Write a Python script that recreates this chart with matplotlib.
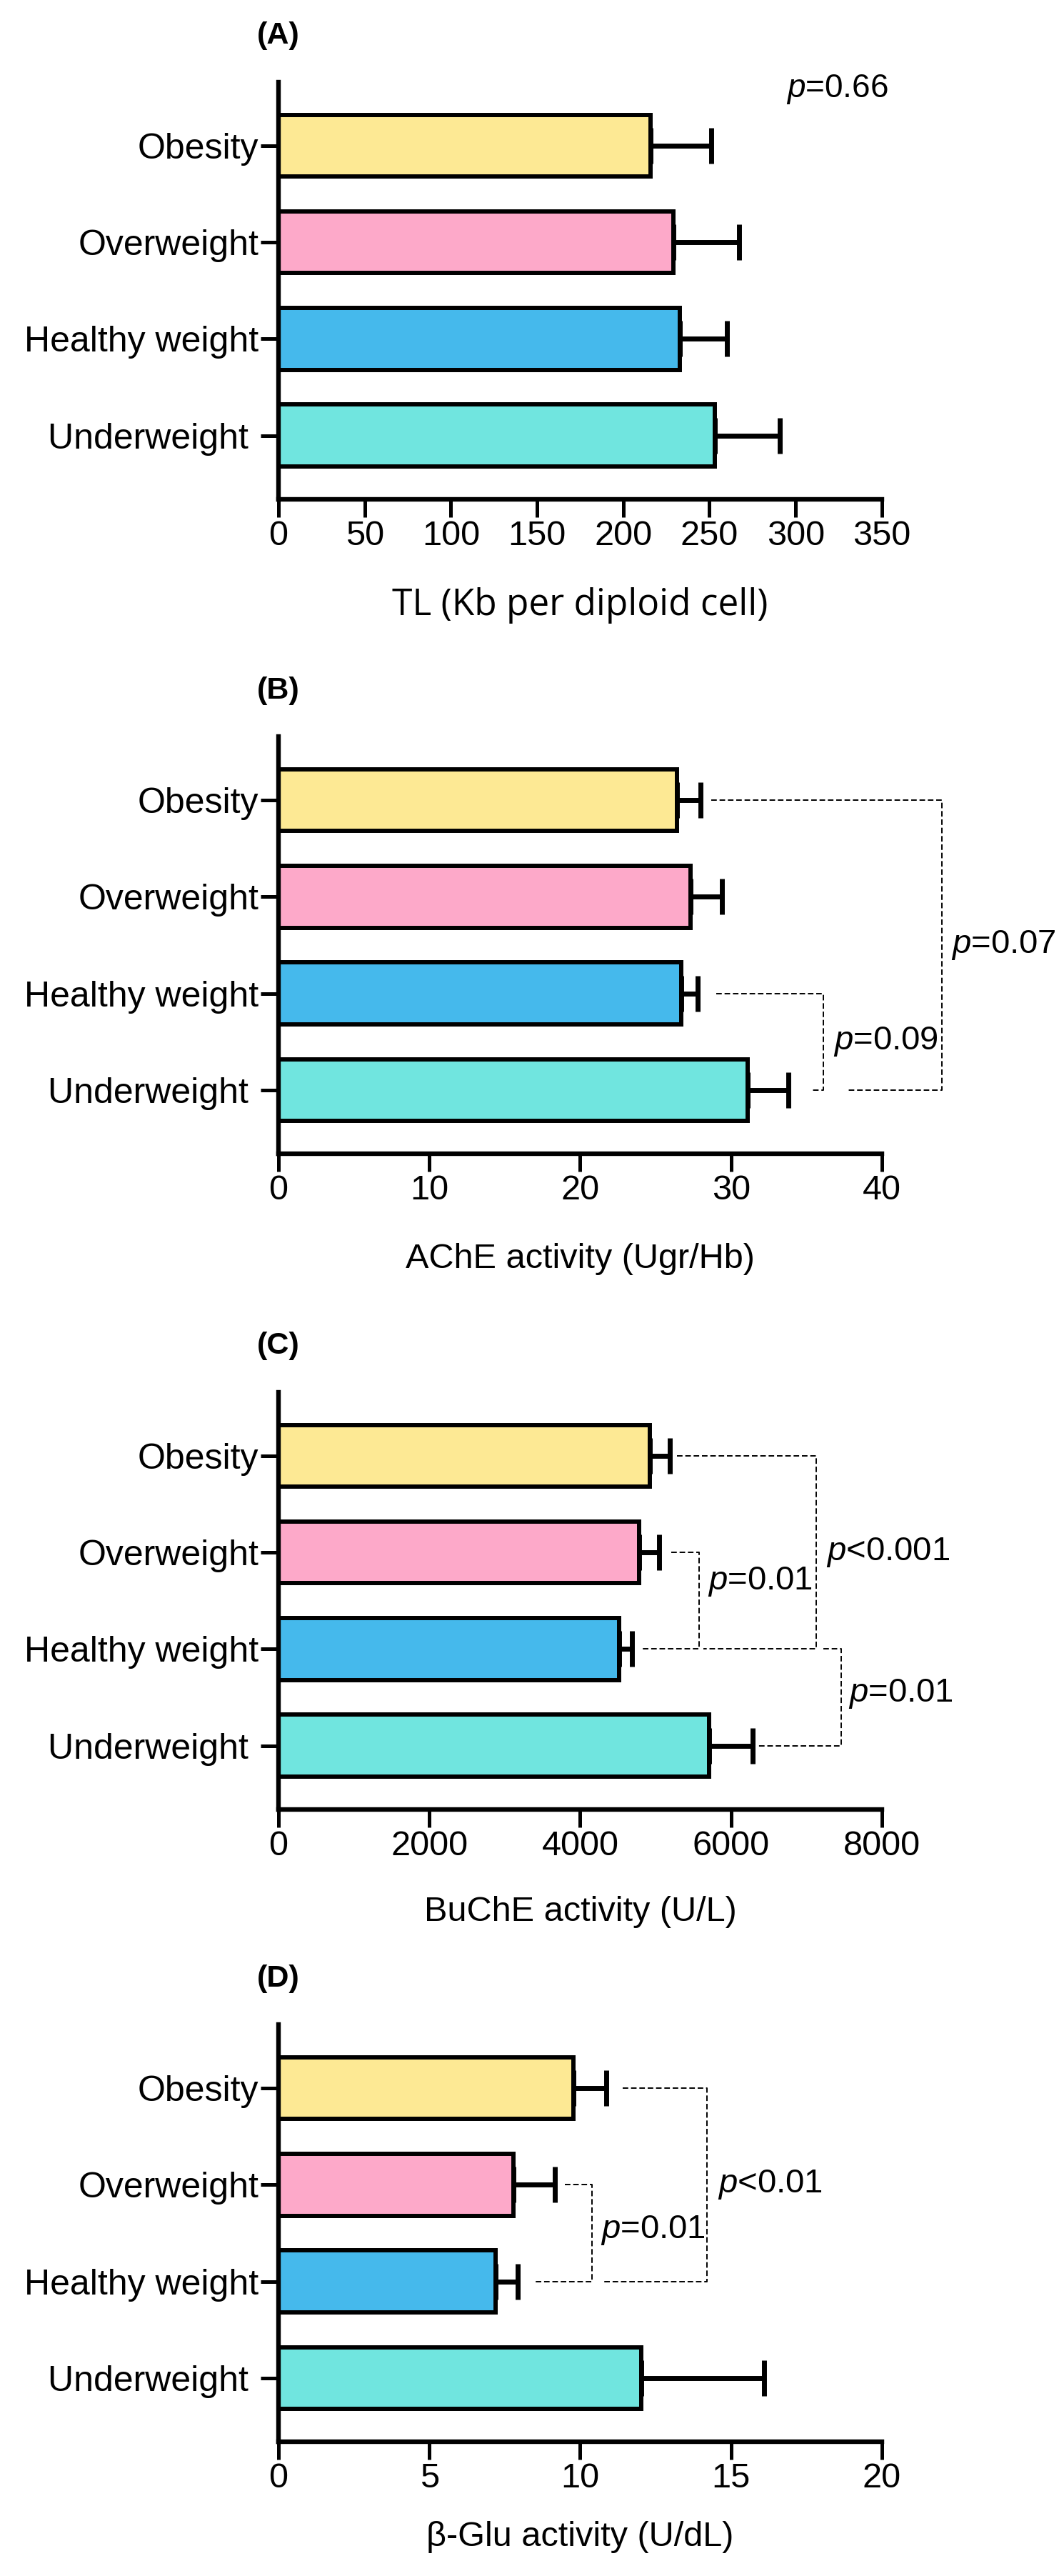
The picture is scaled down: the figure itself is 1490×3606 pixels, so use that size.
import matplotlib
matplotlib.use("Agg")
import matplotlib.pyplot as plt
import numpy as np

plt.rcParams['font.family'] = ['Liberation Sans', 'DejaVu Sans']
plt.rcParams['mathtext.fontset'] = 'custom'
plt.rcParams['mathtext.rm'] = 'Liberation Sans'
plt.rcParams['mathtext.it'] = 'Liberation Sans:italic'

# categories, top to bottom
groups = ['Obesity', 'Overweight', 'Healthy weight', 'Underweight ']
colors = ['#FDE994', '#FDA9C9', '#45B9EC', '#70E5DF']

# (A) telomere length
tl_mean = [216, 229, 233, 253]
tl_sem = [35, 38, 27, 38]
# (B) AChE
ache_mean = [26.4, 27.3, 26.7, 31.1]
ache_sem = [1.6, 2.1, 1.1, 2.7]
# (C) BuChE
buche_mean = [4925, 4782, 4517, 5710]
buche_sem = [265, 265, 170, 578]
# (D) beta-Glu
bglu_mean = [9.78, 7.79, 7.2, 12.02]
bglu_sem = [1.08, 1.37, 0.73, 4.08]

xlabels = ['TL (Kb per diploid cell)', 'AChE activity (Ugr/Hb)',
           'BuChE activity (U/L)', 'β-Glu activity (U/dL)']
panel_tags = ['(A)', '(B)', '(C)', '(D)']
xmax = [350, 40, 8000, 20]
xstep = [50, 10, 2000, 5]

# brackets: (y_from, y_to, x_start, x_right, x_end, text, text_x, text_y)
brackets = [
    [],
    [(3, 0, 28.7, 44.0, 37.7, '$p$=0.07', 44.6, 1.5),
     (1, 0, 29.0, 36.1, 35.3, '$p$=0.09', 36.8, 0.5)],
    [(3, 1, 5286, 7131, 5635, '$p$<0.001', 7265, 2.0),
     (2, 1, 5210, 5578, 4811, '$p$=0.01', 5690, 1.7),
     (1, 0, 7226, 7462, 6337, '$p$=0.01', 7555, 0.54)],
    [(3, 1, 11.4, 14.2, 10.8, '$p$<0.01', 14.56, 2.0),
     (2, 1, 9.5, 10.4, 8.5, '$p$=0.01', 10.67, 1.53)],
]

means = [tl_mean, ache_mean, buche_mean, bglu_mean]
sems = [tl_sem, ache_sem, buche_sem, bglu_sem]

fig = plt.figure(figsize=(14.9, 36.06), dpi=100)
bottoms = [0.8062, 0.5521, 0.2976, 0.0521]
label_y = [-0.255, -0.252, -0.246, -0.229]
y = np.array([3, 2, 1, 0])

for i in range(4):
    ax = fig.add_axes([0.2617, bottoms[i], 0.5671, 0.162])
    ax.barh(y, means[i], height=0.64, color=colors, edgecolor='black',
            linewidth=4.3, zorder=2)
    ax.errorbar(means[i], y, xerr=[np.zeros(4), sems[i]], fmt='none',
                ecolor='black', elinewidth=5, capsize=18, capthick=5, zorder=3)
    ax.set_xlim(0, xmax[i])
    ax.set_ylim(-0.66, 3.66)
    ax.set_xticks(np.arange(0, xmax[i] + 1, xstep[i]))
    ax.set_yticks(y)
    ax.set_yticklabels(groups)
    for s in ['top', 'right']:
        ax.spines[s].set_visible(False)
    for s in ['left', 'bottom']:
        ax.spines[s].set_linewidth(4.6)
    ax.tick_params(axis='both', length=18, width=3.6, labelsize=35)
    ax.tick_params(axis='y', pad=2, labelsize=36)
    ax.tick_params(axis='x', pad=3)
    if i == 0:
        ax.set_xlabel(xlabels[i], fontsize=37, family=['Open Sans'], va='center')
        ax.text(324, 3.58, '$p$=0.66', fontsize=33, ha='center', va='center')
    else:
        ax.set_xlabel(xlabels[i], fontsize=35, va='center')
    ax.xaxis.set_label_coords(0.5, label_y[i])
    ax.text(0, 1.11, panel_tags[i], transform=ax.transAxes, fontsize=31,
            fontweight='bold', ha='center', va='center')
    for (y1, y2, xs, xr, xe, txt, tx, ty) in brackets[i]:
        ax.plot([xs, xr, xr, xe], [y1, y1, y2, y2], color='black', lw=1.4,
                ls=(0, (4, 2)), clip_on=False, zorder=1)
        ax.text(tx, ty, txt, fontsize=34, ha='left', va='center')

fig.savefig('out.png', dpi=100)
